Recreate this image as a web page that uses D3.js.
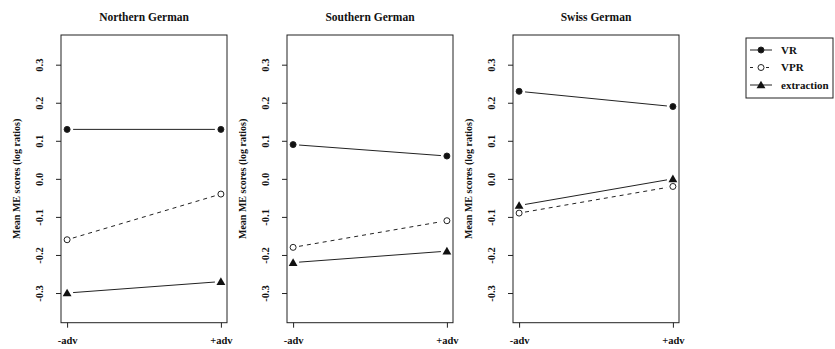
<!DOCTYPE html>
<html><head><meta charset="utf-8">
<script src="https://cdn.jsdelivr.net/npm/d3@7"></script>
<style>body{margin:0;background:#fff;} svg{display:block;} text{font-family:"Liberation Serif","Times New Roman",Times,serif;font-weight:bold;}</style>
</head><body>
<svg id="chart" width="835" height="349"></svg>
<script>
const panels = ["Northern German", "Southern German", "Swiss German"];
const conditions = ["-adv", "+adv"];
const seriesNames = ["VR", "VPR", "extraction"];
const VR = [[0.13, 0.13], [0.09, 0.06], [0.23, 0.19]];
const VPR = [[-0.16, -0.04], [-0.18, -0.11], [-0.09, -0.02]];
const extraction = [[-0.30, -0.27], [-0.22, -0.19], [-0.07, 0.00]];
const yTicks = [-0.3, -0.2, -0.1, 0.0, 0.1, 0.2, 0.3];
const yLabel = "Mean ME scores (log ratios)";

const seriesData = [VR, VPR, extraction];
const styles = [
  {shape: "circle", fill: "#111", dash: null},
  {shape: "circle", fill: "#fff", dash: "4,4"},
  {shape: "triangle", fill: "#111", dash: null}
];
const ink = "#222";
const fmt = d => d3.format(".1f")(d).replace("\u2212", "-");

const svg = d3.select("#chart");
const plotTop = 35, plotBottom = 322.7, pw = 166;
const panelX = d3.scalePoint().domain(panels).range([61, 513]);

const y = d3.scaleLinear().domain([-0.378, 0.378]).range([plotBottom, plotTop]);

function drawMarker(g, st, cx, cy) {
  if (st.shape === "circle") {
    g.append("circle").attr("cx", cx).attr("cy", cy).attr("r", 3)
      .attr("fill", st.fill).attr("stroke", ink).attr("stroke-width", 1);
  } else {
    g.append("path").attr("d", d3.symbol(d3.symbolTriangle, 34)())
      .attr("transform", `translate(${cx},${cy + 0.8})`).attr("fill", "#111");
  }
}

panels.forEach((p, pi) => {
  const x0 = panelX(p);
  const g = svg.append("g").attr("transform", `translate(${x0},0)`);
  const x = d3.scalePoint().domain(conditions).range([6.1, pw - 6.1]);

  g.append("rect").attr("x", 0).attr("y", plotTop).attr("width", pw).attr("height", plotBottom - plotTop)
    .attr("fill", "none").attr("stroke", ink).attr("stroke-width", 1);

  const yAxis = d3.axisLeft(y).tickValues(yTicks).tickFormat(fmt).tickSize(5).tickPadding(4);
  const ya = g.append("g").call(yAxis);
  ya.select(".domain").remove();
  ya.selectAll(".tick line").attr("stroke", ink);
  ya.selectAll(".tick text").attr("transform", "rotate(-90)").attr("x", 0).attr("y", -22)
    .attr("dy", "0.35em").attr("text-anchor", "middle")
    .attr("font-size", 10.5).attr("fill", "#111");

  const xAxis = d3.axisBottom(x).tickSize(5).tickPadding(9);
  const xa = g.append("g").attr("transform", `translate(0,${plotBottom})`).call(xAxis);
  xa.select(".domain").remove();
  xa.selectAll(".tick line").attr("stroke", ink);
  xa.selectAll(".tick text").attr("font-size", 10.5).attr("fill", "#111");

  g.append("text").attr("transform", `translate(-45,${(plotTop + plotBottom) / 2}) rotate(-90)`)
    .attr("text-anchor", "middle")
    .attr("font-size", 10).attr("fill", "#111").attr("dy", "0.35em").text(yLabel);

  g.append("text").attr("x", pw / 2).attr("y", 21).attr("text-anchor", "middle")
    .attr("font-size", 11.5).attr("fill", "#111").text(p);

  seriesData.forEach((sd, si) => {
    const st = styles[si];
    const vals = sd[pi];
    const xa1 = x(conditions[0]), xa2 = x(conditions[1]);
    const ya1 = y(vals[0]), ya2 = y(vals[1]);
    const len = Math.hypot(xa2 - xa1, ya2 - ya1);
    const gap = 6;
    const ux = (xa2 - xa1) / len, uy = (ya2 - ya1) / len;
    g.append("line").attr("x1", xa1 + ux * gap).attr("y1", ya1 + uy * gap)
      .attr("x2", xa2 - ux * gap).attr("y2", ya2 - uy * gap)
      .attr("stroke", ink).attr("stroke-width", 1)
      .attr("stroke-dasharray", st.dash);
    vals.forEach((v, ci) => drawMarker(g, st, x(conditions[ci]), y(v)));
  });
});

// legend
const lg = svg.append("g").attr("transform", "translate(746,38)");
lg.append("rect").attr("x", 0).attr("y", 0).attr("width", 87).attr("height", 60)
  .attr("fill", "none").attr("stroke", ink).attr("stroke-width", 1);
const ly = d3.scalePoint().domain(seriesNames).range([12, 47]);
seriesNames.forEach((s, si) => {
  const st = styles[si];
  const yy = ly(s);
  lg.append("line").attr("x1", 4).attr("x2", 26).attr("y1", yy).attr("y2", yy)
    .attr("stroke", ink).attr("stroke-width", 1).attr("stroke-dasharray", st.dash ? "3,5" : null);
  if (st.dash) {
    lg.append("rect").attr("x", 10).attr("y", yy - 4).attr("width", 10).attr("height", 8).attr("fill", "#fff");
  }
  drawMarker(lg, st, 15, yy);
  lg.append("text").attr("x", 35).attr("y", yy).attr("dy", "0.35em")
    .attr("font-size", 11).attr("fill", "#111").text(s);
});
</script>
</body></html>
